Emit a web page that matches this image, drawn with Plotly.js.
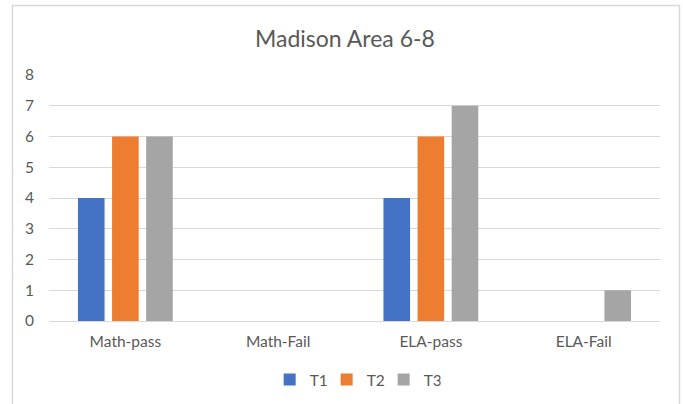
<!DOCTYPE html>
<html>
<head>
<meta charset="utf-8">
<script src="https://cdn.plot.ly/plotly-3.0.1.min.js"></script>
<style>
  html, body { margin: 0; padding: 0; background: #ffffff; }
  #chart { width: 683px; height: 404px; }
</style>
</head>
<body>
<div id="chart"></div>
<script>
// Test categories and counts per term
const categories = ["Math-pass", "Math-Fail", "ELA-pass", "ELA-Fail"];
const seriesNames = ["T1", "T2", "T3"];
const t1 = [4, null, 4, null];
const t2 = [6, null, 6, null];
const t3 = [6, null, 7, 1];
const seriesColors = ["#4472C4", "#ED7D31", "#A5A5A5"];

const textColor = "#595959";
const gridColor = "#D9D9D9";
const fontFamily = "Lato, 'Open Sans', sans-serif";

const values = [t1, t2, t3];
const traces = values.map((v, i) => ({
  type: "bar",
  name: seriesNames[i],
  x: categories,
  y: v,
  marker: { color: seriesColors[i], line: { width: 0 } },
  hoverinfo: "x+y+name"
}));

const layout = {
  width: 683,
  height: 404,
  margin: { l: 49, r: 23, t: 75, b: 83 },
  paper_bgcolor: "#ffffff",
  plot_bgcolor: "#ffffff",
  font: { family: fontFamily, color: textColor, size: 15.5 },
  title: {
    text: "Madison Area 6-8",
    font: { family: fontFamily, size: 23, color: textColor },
    x: 0.505,
    xanchor: "center",
    y: 1 - 39 / 404,
    yref: "container",
    yanchor: "middle"
  },
  barmode: "group",
  bargap: 0.33,
  bargroupgap: 0.22,
  xaxis: {
    type: "category",
    showgrid: false,
    showline: false,
    zeroline: false,
    ticks: "",
    ticklabelstandoff: 9,
    automargin: false,
    tickfont: { size: 15.5, color: textColor }
  },
  yaxis: {
    range: [0, 8],
    dtick: 1,
    showgrid: true,
    gridcolor: gridColor,
    gridwidth: 1,
    zeroline: true,
    zerolinecolor: gridColor,
    zerolinewidth: 1,
    showline: false,
    ticks: "",
    ticklabelstandoff: 14,
    automargin: false,
    tickfont: { size: 15.5, color: textColor }
  },
  legend: {
    orientation: "h",
    x: 0.52,
    xanchor: "center",
    xref: "container",
    y: 1 - 380 / 404,
    yref: "container",
    yanchor: "middle",
    entrywidth: 12,
    font: { size: 15.5, color: textColor }
  },
  shapes: [
    {
      // chart area frame
      type: "rect",
      xref: "paper", yref: "paper",
      x0: (12.5 - 49) / 611, x1: (679.5 - 49) / 611,
      y0: (321 - 412) / 246, y1: (321 - 5.5) / 246,
      line: { color: gridColor, width: 1.5 },
      fillcolor: "rgba(0,0,0,0)",
      layer: "below"
    }
  ]
};

Plotly.newPlot("chart", traces, layout, { displayModeBar: false, staticPlot: true });
</script>
</body>
</html>
